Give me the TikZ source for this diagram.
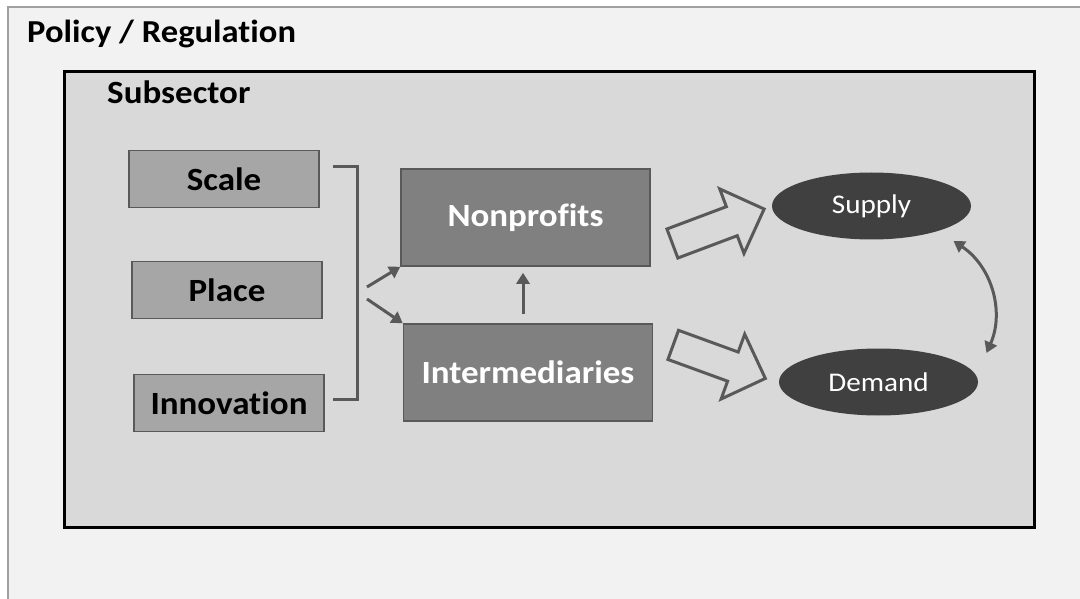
\documentclass[tikz,border=0pt]{standalone}
\usepackage{fontspec}
\setmainfont[Ligatures=NoCommon, FakeStretch=1.08]{Carlito}
\usetikzlibrary{shapes,arrows.meta,positioning,calc}

\definecolor{policybg}{HTML}{F2F2F2}
\definecolor{policyline}{HTML}{A0A0A0}
\definecolor{subbg}{HTML}{D9D9D9}
\definecolor{factorfill}{HTML}{A6A6A6}
\definecolor{actorfill}{HTML}{808080}
\definecolor{marketfill}{HTML}{404040}
\definecolor{linkgray}{HTML}{595959}

\begin{document}
\begin{tikzpicture}[x=1pt,y=-1pt,
    factor/.style={draw=linkgray, line width=1.5pt, fill=factorfill, minimum width=190pt, minimum height=57pt, inner sep=0pt, font=\fontsize{32.4}{34}\selectfont\bfseries},
    actor/.style={draw=linkgray, line width=1.5pt, fill=actorfill, text=white, minimum width=249pt, minimum height=97pt, inner sep=0pt, font=\fontsize{32.4}{34}\selectfont\bfseries},
    market/.style={ellipse, fill=marketfill, text=white, minimum width=199pt, minimum height=67pt, inner sep=0pt, font=\fontsize{27}{29}\selectfont},
    link/.style={draw=linkgray, line width=3pt, -{Triangle[length=11pt,width=13pt]}},
    bigarrow/.style={single arrow, draw=linkgray, line width=3pt, minimum height=98pt, inner xsep=0pt, inner ysep=14pt, single arrow head extend=19pt}]
    \useasboundingbox (0,0) rectangle (1080,599);

    % Frames
    \begin{scope}
        \clip (0,0) rectangle (1080,599);
        \draw[policyline, fill=policybg, line width=1.5pt] (8,7) rectangle (1095,612);
    \end{scope}
    \draw[black, fill=subbg, line width=3pt] (64,72) rectangle (1034,527);
    \node[anchor=base west, inner sep=0pt, font=\fontsize{32}{34}\selectfont\bfseries] (pol) at (27,43) {Policy / Regulation};
    \node[anchor=base west, inner sep=0pt, font=\fontsize{32.4}{34}\selectfont\bfseries] (sub) at (107,104) {Subsector};

    % Factors
    \node[factor] (sc) at (224,179) {Scale};
    \node[factor] (pl) at (227,290) {Place};
    \node[factor] (in) at (229,403) {Innovation};
    \draw[linkgray, line width=3pt] (333,167) -- (357,167) -- (357,399) -- (333,399);
    \coordinate (brk) at (367,293);

    % Actors
    \node[actor] (np) at (525.5,217.5) {Nonprofits};
    \node[actor] (im) at (528,372.5) {Intermediaries};
    \draw[link] ($(brk)+(0,-6)$) -- (np.south west);
    \draw[link] ($(brk)+(0,6)$) -- (im.north west);
    \draw[link, shorten <=9pt, shorten >=6pt] ($(im.north)+(-5,0)$) -- ($(np.south)+(-2.5,0)$);

    % Markets
    \node[market] (sup) at (871.5,206) {Supply};
    \node[market] (dem) at (878.5,382) {Demand};
    \node[bigarrow, rotate=20.6] (toSup) at (711,229) {};
    \node[bigarrow, rotate=-20] (toDem) at (712,359) {};
    \draw[draw=linkgray, line width=3pt, {Triangle[length=11pt,width=13pt]}-{Triangle[length=11pt,width=13pt]}]
        ($(sup)+(82,35)$) to[bend left=40] ($(dem)+(108,-29)$);
\end{tikzpicture}
\end{document}
